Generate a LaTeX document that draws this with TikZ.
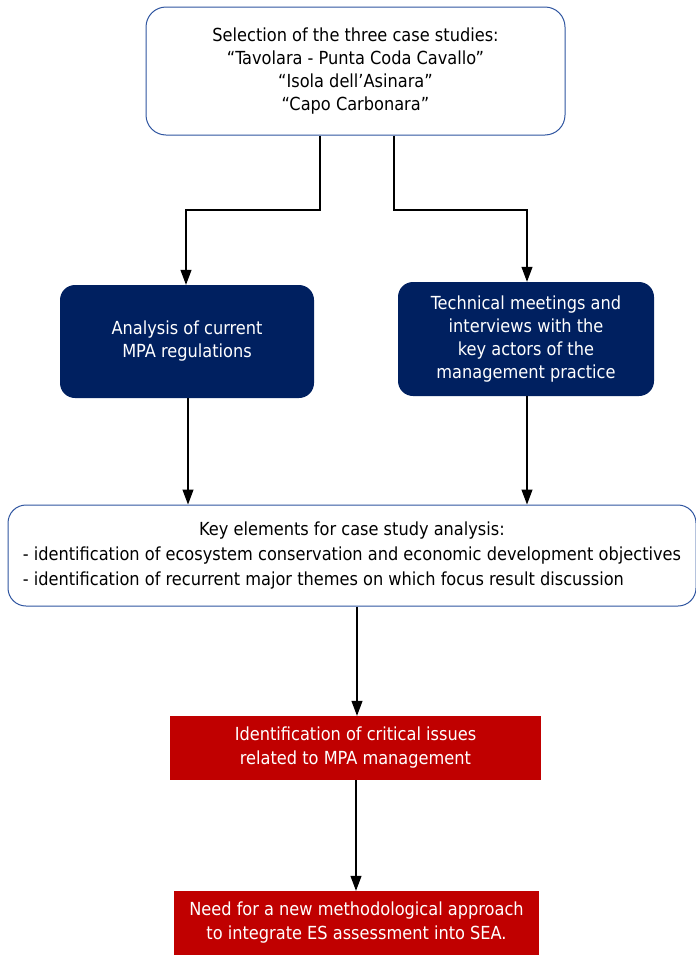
\documentclass[tikz,border=0pt]{standalone}
\usepackage{fontspec}
\setmainfont{DejaVu Sans Condensed}
\usetikzlibrary{arrows.meta}
\definecolor{bordblue}{RGB}{47,85,160}
\definecolor{navy}{RGB}{0,32,96}
\definecolor{darkred}{RGB}{192,0,0}
\tikzset{
  x=1pt,y=-1pt,
  txt/.style={font=\fontsize{18}{23}\selectfont, align=center, inner sep=0pt},
  whitebox/.style={txt, draw=bordblue, line width=1pt, fill=white, rounded corners=20pt},
  navybox/.style={txt, fill=navy, text=white, rounded corners=15pt},
  redbox/.style={txt, fill=darkred, text=white},
  arr/.style={line width=1.1pt, -{Triangle[width=11pt,length=15pt]}}
}
\begin{document}
\begin{tikzpicture}
\useasboundingbox (0,0) rectangle (696,956);
\node[whitebox, minimum width=419pt, minimum height=128pt] (sel) at (355.5,71)
  {Selection of the three case studies:\\ “Tavolara - Punta Coda Cavallo”\\ “Isola dell’Asinara”\\ “Capo Carbonara”};
\node[navybox, minimum width=254pt, minimum height=113pt] (ana) at (187,341.5)
  {Analysis of current\\ MPA regulations};
\node[navybox, minimum width=256pt, minimum height=114pt] (tec) at (526,339)
  {Technical meetings and\\ interviews with the\\ key actors of the\\ management practice};
\node[whitebox, rounded corners=18pt, minimum width=688pt, minimum height=101pt, font=\fontsize{18}{25}\selectfont] (key) at (352,555.5)
  {\begin{tabular}{@{}l@{}}\multicolumn{1}{@{}c@{}}{Key elements for case study analysis:}\\ - identification of ecosystem conservation and economic development objectives\\ - identification of recurrent major themes on which focus result discussion\end{tabular}};
\node[redbox, minimum width=371pt, minimum height=64pt, font=\fontsize{18}{24}\selectfont] (crit) at (355.5,748)
  {Identification of critical issues\\ related to MPA management};
\node[redbox, minimum width=365pt, minimum height=64pt, font=\fontsize{18}{24}\selectfont] (need) at (356.5,923)
  {Need for a new methodological approach\\ to integrate ES assessment into SEA.};
\coordinate (l1) at (320,210);
\coordinate (l2) at (186,210);
\coordinate (r1) at (394,210);
\coordinate (r2) at (527,210);
\draw[arr] (sel.south -| l1) -- (l1) -- (l2) -- (ana.north -| l2);
\draw[arr] (sel.south -| r1) -- (r1) -- (r2) -- (tec.north -| r2);
\draw[arr] (ana.south -| 188,0) -- (key.north -| 188,0);
\draw[arr] (tec.south -| 527,0) -- (key.north -| 527,0);
\draw[arr] (key.south -| 357,0) -- (crit.north -| 357,0);
\draw[arr] (crit.south -| 356,0) -- (need.north -| 356,0);
\end{tikzpicture}
\end{document}
